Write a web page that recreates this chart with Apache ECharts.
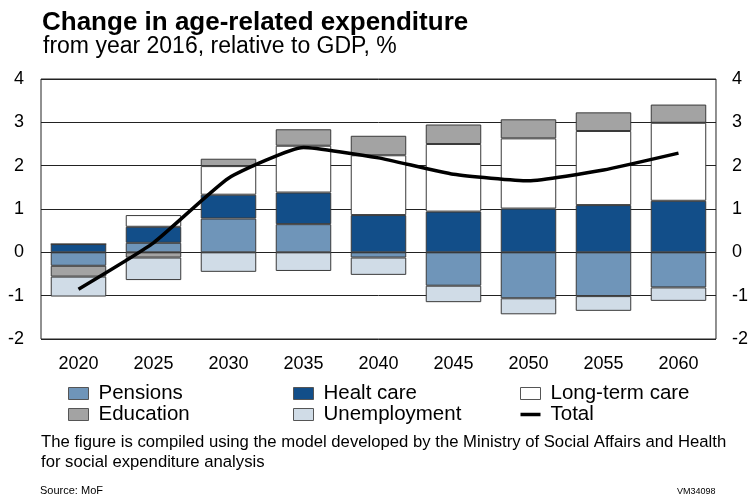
<!DOCTYPE html>
<html>
<head>
<meta charset="utf-8">
<script src="https://cdn.jsdelivr.net/npm/echarts@6/dist/echarts.min.js"></script>
<style>
  html, body { margin: 0; padding: 0; background: #fff; }
  #chart { width: 751px; height: 498px; }
</style>
</head>
<body>
<div id="chart"></div>
<script>
// values, % of GDP
var years = ['2020', '2025', '2030', '2035', '2040', '2045', '2050', '2055', '2060'];
var pensions = [-0.31, 0.22, 0.78, 0.65, -0.12, -0.77, -1.06, -1.01, -0.81];
var healthCare = [0.19, 0.37, 0.55, 0.73, 0.86, 0.94, 1.01, 1.09, 1.19];
var longTermCare = [0, 0.27, 0.66, 1.08, 1.38, 1.56, 1.62, 1.71, 1.80];
var education = [-0.25, -0.12, 0.17, 0.38, 0.45, 0.45, 0.44, 0.43, 0.42];
var unemployment = [-0.46, -0.52, -0.45, -0.43, -0.40, -0.38, -0.37, -0.34, -0.31];
var total = [-0.85, 0.22, 1.71, 2.42, 2.18, 1.80, 1.65, 1.90, 2.29];
var yTicks = [-2, -1, 0, 1, 2, 3, 4];

var font = 'Liberation Sans, Arial, sans-serif';
var edge = '#3a3a3a';

function barSeries(name, data, color) {
    return {
        name: name,
        type: 'bar',
        stack: 'all',
        barWidth: '74%',
        data: data,
        itemStyle: { color: color, borderColor: edge, borderWidth: 1 }
    };
}

var myChart = echarts.init(document.getElementById('chart'), null, { renderer: 'canvas' });

var legendBase = {
    orient: 'vertical',
    top: 383,
    padding: 0,
    itemWidth: 20,
    itemHeight: 12,
    itemGap: 0,
    icon: 'rect',
    selectedMode: false,
    itemStyle: { borderColor: '#555', borderWidth: 1 },
    textStyle: { fontFamily: font, fontSize: 20.5, lineHeight: 21, color: '#000', padding: [0, 0, 0, 5] }
};

var option = {
    backgroundColor: '#fff',
    animation: false,
    textStyle: { fontFamily: font },
    grid: {
        left: 41, right: 32, top: 79, bottom: 159,
        show: true, borderColor: '#222', borderWidth: 1, backgroundColor: 'transparent'
    },
    legend: [
        Object.assign({}, legendBase, { left: 68, data: ['Pensions', 'Education'] }),
        Object.assign({}, legendBase, { left: 293, data: ['Healt care', 'Unemployment'] }),
        Object.assign({}, legendBase, { left: 520, data: ['Long-term care', {
            name: 'Total',
            icon: 'path://M0,0 L20,0 L20,3.5 L0,3.5 Z',
            itemStyle: { color: '#000', borderWidth: 0 }
        }] })
    ],
    xAxis: {
        type: 'category',
        data: years,
        axisLine: { show: false },
        axisTick: { show: false },
        axisLabel: { fontFamily: font, fontSize: 18, color: '#000', margin: 16 }
    },
    yAxis: [{
        type: 'value', min: yTicks[0], max: yTicks[yTicks.length - 1], interval: 1,
        axisLine: { show: false }, axisTick: { show: false },
        axisLabel: { fontFamily: font, fontSize: 18, color: '#000', margin: 17 },
        splitLine: { lineStyle: { color: '#222', width: 1 } }
    }, {
        type: 'value', min: yTicks[0], max: yTicks[yTicks.length - 1], interval: 1,
        position: 'right',
        axisLine: { show: false }, axisTick: { show: false },
        axisLabel: { fontFamily: font, fontSize: 18, color: '#000', margin: 16 },
        splitLine: { show: false }
    }],
    series: [
        barSeries('Pensions', pensions, '#6f95b9'),
        barSeries('Healt care', healthCare, '#124e89'),
        barSeries('Long-term care', longTermCare, '#ffffff'),
        barSeries('Education', education, '#a3a3a3'),
        barSeries('Unemployment', unemployment, '#d0dce7'),
        {
            name: 'Total',
            type: 'line',
            data: total,
            smooth: 0.15,
            symbol: 'none',
            z: 5,
            lineStyle: { color: '#000', width: 3.5 },
            itemStyle: { color: '#000' }
        }
    ],
    graphic: [
        { type: 'text', left: 42, top: 10, style: { text: 'Change in age-related expenditure', font: 'bold 26px ' + font, fill: '#000' } },
        { type: 'text', left: 43, top: 35, style: { text: 'from year 2016, relative to GDP, %', font: '23px ' + font, fill: '#000' } },
        { type: 'text', left: 41, top: 434, style: { text: 'The figure is compiled using the model developed by the Ministry of Social Affairs and Health', font: '16.7px ' + font, fill: '#000' } },
        { type: 'text', left: 41, top: 454, style: { text: 'for social expenditure analysis', font: '16.7px ' + font, fill: '#000' } },
        { type: 'text', left: 40, top: 485, style: { text: 'Source: MoF', font: '11px ' + font, fill: '#000' } },
        { type: 'text', left: 677, top: 487, style: { text: 'VM34098', font: '9px ' + font, fill: '#000' } }
    ]
};

myChart.setOption(option);
</script>
</body>
</html>
